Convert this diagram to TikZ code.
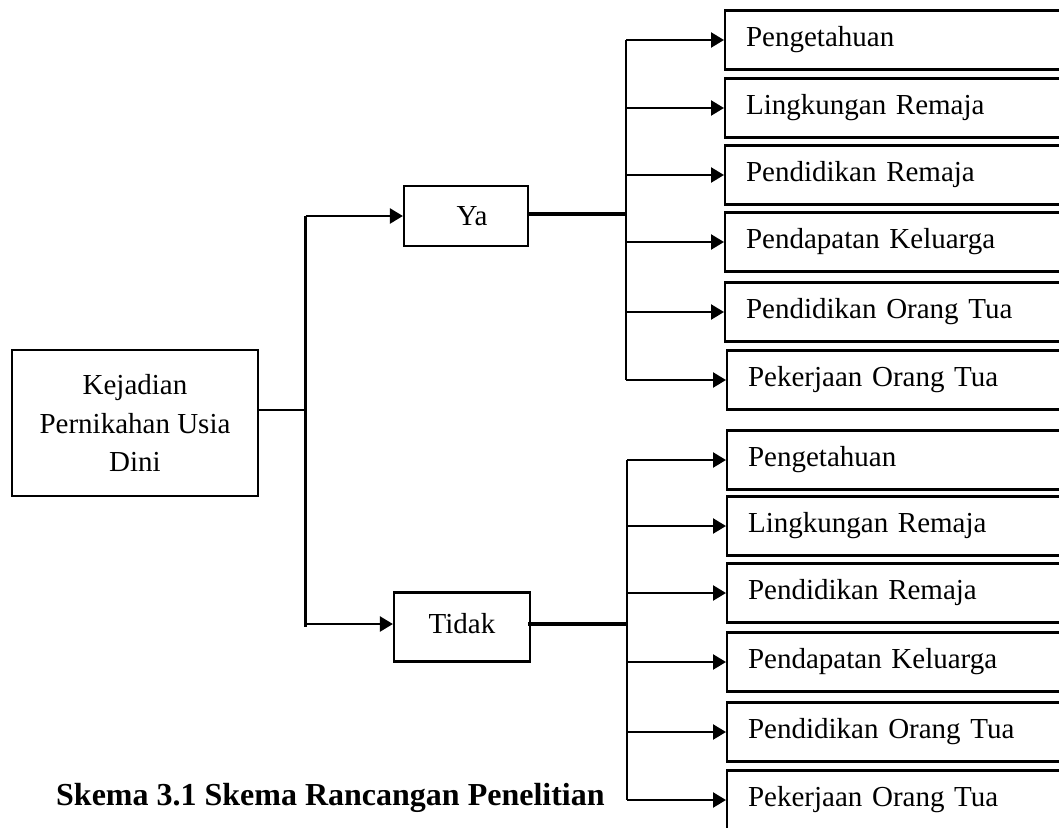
\documentclass[tikz,border=0pt]{standalone}
\usepackage{fontspec}
\setmainfont{Liberation Serif}
\usetikzlibrary{arrows.meta}
\begin{document}
\begin{tikzpicture}[x=1pt,y=-1pt,
  box/.style={draw=black,line width=2.2pt,inner sep=0pt,font=\fontsize{29}{38.5}\selectfont},
  rbox/.style={box,anchor=west,minimum width=360pt,minimum height=59pt,text width=320pt,align=left,inner xsep=21pt},
  conn/.style={line width=2.4pt},
  thick conn/.style={line width=3.2pt},
  arr/.style={line width=2.4pt,-{Triangle[length=13pt,width=15pt]}}]
\useasboundingbox (0,0) rectangle (1059,827);
\clip (0,0) rectangle (1059,827);
% left box
\node[box,minimum width=246pt,minimum height=146pt,align=center] (kej) at (135,423) {Kejadian\\Pernikahan Usia\\Dini};
% middle boxes
\node[box,minimum width=124pt,minimum height=60pt] (ya) at (466,216) {\hspace*{12pt}Ya};
\node[box,minimum width=136pt,minimum height=69pt] (tidak) at (462,627) {\raisebox{7pt}{Tidak}};
% bus coordinates
\coordinate (lbus) at (305.5,410);
\coordinate (ybus) at (626,214);
\coordinate (tbus) at (627,624);
% upper right boxes
\node[rbox] (y1) at (724,40) {Pengetahuan};
\node[rbox] (y2) at (724,108) {Lingkungan Remaja};
\node[rbox] (y3) at (724,175) {Pendidikan Remaja};
\node[rbox] (y4) at (724,242) {Pendapatan Keluarga};
\node[rbox] (y5) at (724,312) {Pendidikan Orang Tua};
\node[rbox] (y6) at (726,380) {Pekerjaan Orang Tua};
% lower right boxes
\node[rbox] (t1) at (726,460) {Pengetahuan};
\node[rbox] (t2) at (726,526) {Lingkungan Remaja};
\node[rbox] (t3) at (726,593) {Pendidikan Remaja};
\node[rbox] (t4) at (726,662) {Pendapatan Keluarga};
\node[rbox] (t5) at (726,732) {Pendidikan Orang Tua};
\node[rbox] (t6) at (726,800) {Pekerjaan Orang Tua};
% caption
\node[anchor=base west,inner sep=0pt,font=\fontsize{32}{38}\selectfont\bfseries] (cap) at (56,805) {Skema 3.1 Skema Rancangan Penelitian};
% connectors from left box
\draw[conn] ([yshift=13pt]kej.east) -- (lbus);
\draw[conn] (lbus |- ya.west) -- (lbus |- tidak.west);
\draw[arr] (lbus |- ya.west) -- (ya.west);
\draw[arr] ([yshift=3pt]lbus |- tidak.west) -- ([yshift=3pt]tidak.west);
% Ya branch
\draw[thick conn] ([yshift=2pt]ya.east) -- (ybus);
\draw[conn] (ybus |- y1.west) -- (ybus |- y6.west);
\foreach \n in {y1,y2,y3,y4,y5,y6} \draw[arr] (ybus |- \n.west) -- (\n.west);
% Tidak branch
\draw[thick conn] ([yshift=3pt,xshift=-3pt]tidak.east) -- (tbus);
\draw[conn] (tbus |- t1.west) -- (tbus |- t6.west);
\foreach \n in {t1,t2,t3,t4,t5,t6} \draw[arr] (tbus |- \n.west) -- (\n.west);
\end{tikzpicture}
\end{document}
